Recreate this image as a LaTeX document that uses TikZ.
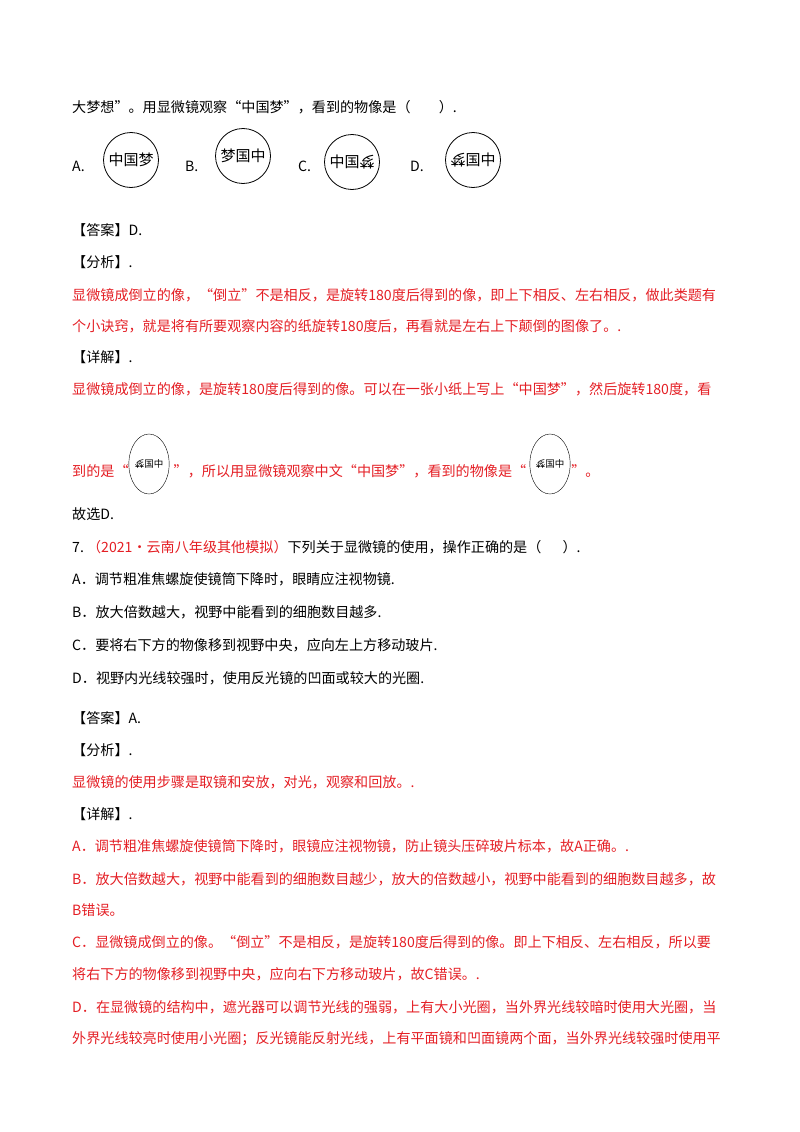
\documentclass[tikz,border=0pt]{standalone}
\usepackage{fontspec}
\setmainfont{Noto Sans CJK SC}
\usepackage{graphicx}
\usetikzlibrary{shapes.geometric}
\definecolor{ansred}{RGB}{228,30,36}
\newcommand{\rmeng}{\rotatebox[origin=c]{180}{梦}}

\begin{document}
\begin{tikzpicture}[x=1pt,y=-1pt,
  txt/.style={anchor=west,inner sep=0pt,font=\fontsize{14.1}{16}\selectfont},
  red/.style={txt,text=ansred},
  lens/.style={circle,draw,thick,minimum size=55pt,inner sep=0pt,font=\fontsize{15}{16}\selectfont},
  oval/.style={ellipse,draw,minimum width=36pt,minimum height=60pt,inner sep=0pt,font=\fontsize{9.5}{10}\selectfont}]
\useasboundingbox (0,0) rectangle (800,1132);
% question 6
\node[txt] (q6) at (72,107) {大梦想”。用显微镜观察“中国梦”，看到的物像是（\hspace{2em}）.};
\node[txt] (la) at (72,166) {A.};
\node[lens] (oa) at (131,160) {中国梦};
\node[txt] (lb) at (185,166) {B.};
\node[lens] (ob) at (243,156) {梦国中};
\node[txt] (lc) at (298,166) {C.};
\node[lens] (oc) at (352,162) {中国\rmeng};
\node[txt] (ld) at (410,166) {D.};
\node[lens] (od) at (473,160) {\rmeng 国中};
\node[txt] (ans6) at (72,230) {【答案】D.};
\node[txt] (ana6) at (72,262) {【分析】.};
\node[red] (r1) at (72,295) {显微镜成倒立的像，“倒立”不是相反，是旋转180度后得到的像，即上下相反、左右相反，做此类题有};
\node[red] (r2) at (72,326) {个小诀窍，就是将有所要观察内容的纸旋转180度后，再看就是左右上下颠倒的图像了。.};
\node[txt] (det6) at (72,357) {【详解】.};
\node[red] (r3) at (72,389) {显微镜成倒立的像，是旋转180度后得到的像。可以在一张小纸上写上“中国梦”，然后旋转180度，看};
\node[red] (r4) at (72,471) {到的是“\hspace{3.2em}”，所以用显微镜观察中文“中国梦”，看到的物像是“\hspace{3.2em}”。};
\node[oval] (e1) at (149,464) {\rmeng 国中};
\node[oval] (e2) at (550,464) {\rmeng 国中};
\node[txt] (sel6) at (72,514) {故选D.};
% question 7
\node[txt] (q7) at (72,547) {7.\ \textcolor{ansred}{（2021·云南八年级其他模拟）}下列关于显微镜的使用，操作正确的是（\hspace{1.5em}）.};
\node[txt] (a7) at (72,579) {A．调节粗准焦螺旋使镜筒下降时，眼睛应注视物镜.};
\node[txt] (b7) at (72,612) {B．放大倍数越大，视野中能看到的细胞数目越多.};
\node[txt] (c7) at (72,645) {C．要将右下方的物像移到视野中央，应向左上方移动玻片.};
\node[txt] (d7) at (72,678) {D．视野内光线较强时，使用反光镜的凹面或较大的光圈.};
\node[txt] (ans7) at (72,718) {【答案】A.};
\node[txt] (ana7) at (72,750) {【分析】.};
\node[red] (s1) at (72,782) {显微镜的使用步骤是取镜和安放，对光，观察和回放。.};
\node[txt] (det7) at (72,814) {【详解】.};
\node[red] (s2) at (72,846) {A．调节粗准焦螺旋使镜筒下降时，眼镜应注视物镜，防止镜头压碎玻片标本，故A正确。.};
\node[red] (s3) at (72,879) {B．放大倍数越大，视野中能看到的细胞数目越少，放大的倍数越小，视野中能看到的细胞数目越多，故};
\node[red] (s4) at (72,910) {B错误。};
\node[red] (s5) at (72,942) {C．显微镜成倒立的像。“倒立”不是相反，是旋转180度后得到的像。即上下相反、左右相反，所以要};
\node[red] (s6) at (72,974) {将右下方的物像移到视野中央，应向右下方移动玻片，故C错误。.};
\node[red] (s7) at (72,1007) {D．在显微镜的结构中，遮光器可以调节光线的强弱，上有大小光圈，当外界光线较暗时使用大光圈，当};
\node[red] (s8) at (72,1039) {外界光线较亮时使用小光圈；反光镜能反射光线，上有平面镜和凹面镜两个面，当外界光线较强时使用平};
\end{tikzpicture}
\end{document}
